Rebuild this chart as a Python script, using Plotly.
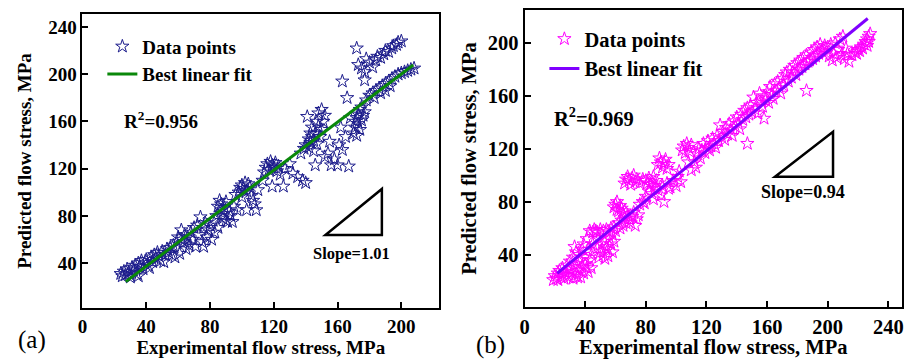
import plotly.graph_objects as go

# ---------------- Panel (a) data ----------------
left_x = [24, 25, 26, 27, 28, 29, 30, 31, 32, 33, 34, 35, 35, 36, 37, 38, 39, 40, 41, 42, 43, 44, 45, 46, 47, 48, 49, 50, 51, 52,
          53, 54, 55, 56, 57, 58, 59, 60, 61, 62, 63, 64, 65,
          62, 64, 66, 67, 68, 69, 70, 71, 72, 73, 74, 75, 76, 76, 77, 78, 79, 80, 81, 82, 83, 84, 85, 85, 86, 87, 87, 88, 88, 89,
          90, 90, 91, 92, 93, 94, 95, 96, 97,
          98, 99, 100, 100, 101, 102, 103, 103, 104, 105, 106, 107, 108, 109, 110,
          113, 114, 115, 116, 117, 118, 119, 119, 120, 121, 122, 123, 124, 126, 127, 130, 132, 135, 138, 140,
          137, 139, 140, 141, 142, 142, 143, 143, 144, 144, 145, 145, 146, 146, 147, 147, 148, 148, 149, 150, 150, 151, 152, 152,
          154, 155,
          156, 158, 160, 161, 162, 163, 165, 166, 167, 168,
          170, 171, 171, 172, 172, 173, 173, 174, 174, 175, 175, 176, 177, 172, 173, 175, 177, 178,
          180, 182, 184, 185, 187, 189, 190, 192, 194, 195, 197, 198, 200,
          178, 180, 182, 184, 186, 188, 190, 192, 194, 196, 198, 200, 202, 204, 206, 208, 183, 187, 190, 193, 177, 163]
left_y = [31, 29, 33, 30, 35, 32, 28, 36, 34, 38, 31, 29, 40, 37, 42, 35, 40, 43, 38, 36, 45, 41, 47, 44, 49, 46, 42, 50, 41, 47,
          52, 49, 53, 47, 55, 45, 58, 62, 48, 60, 57, 64, 52,
          68, 58, 62, 55, 66, 60, 70, 54, 72, 64, 79, 58, 54, 70, 74, 62, 68, 72, 60, 76, 66, 80, 70, 88, 93, 85, 90, 82, 78, 87,
          76, 92, 75, 84, 80, 75, 88, 98, 85,
          100, 104, 106, 96, 103, 108, 85, 101, 107, 104, 97, 93, 90, 85, 102,
          110, 117, 121, 124, 119, 126, 123, 105, 121, 125, 118, 122, 115, 105, 120, 124, 116, 113, 110, 108,
          133, 137, 140, 164, 145, 138, 150, 142, 147, 155, 135, 144, 123, 150, 141, 160, 156, 167, 147, 170, 153, 160, 165, 130,
          133, 143,
          123, 128, 123, 140, 155, 194, 147, 180, 122, 163,
          150, 155, 160, 148, 163, 158, 166, 153, 170, 161, 172, 165, 168, 222, 208, 205, 202, 213,
          210, 206, 212, 215, 214, 217, 220, 219, 222, 224, 225, 227, 228,
          178, 182, 184, 186, 188, 190, 192, 194, 196, 198, 200, 201, 202, 203, 204, 205, 180, 184, 186, 190, 195, 136]
left_fit_x = [27.2, 207.5]
left_fit_y = [24.3, 207.8]

# ---------------- Panel (b) data ----------------
right_x = [19, 20, 21, 22, 22, 23, 24, 25, 25, 26, 27, 28, 28, 29, 30, 30, 31, 32, 32, 33, 33, 34, 34, 35, 35, 36, 36, 37, 37,
           38, 38, 39, 39, 40, 40, 41, 41, 42, 42, 43, 43, 44, 44, 45, 45,
           46, 47, 48, 48, 49, 49, 50, 50, 51, 52, 52, 53, 53, 54, 54, 55, 55, 56, 56, 57, 57, 58, 58, 59, 59, 60,
           59, 60, 61, 61, 62, 63, 64, 65, 66, 62, 63, 64, 65, 66, 67, 68, 69, 70, 71, 72, 73, 74, 75,
           66, 67, 68, 69, 70, 71, 72, 73, 74, 76, 78, 80, 81, 82, 83, 84, 85, 86, 87, 88, 89, 90, 91, 92, 93, 94, 95,
           76, 78, 79, 80, 82, 84, 85, 86, 88, 90, 91, 92, 94, 95, 96, 98, 100, 101, 103,
           102, 104, 105, 106, 107, 108, 109, 110, 108, 110, 112, 113,
           114, 115, 116, 117, 118, 119, 120, 121, 122, 123, 124, 125, 126, 127, 128, 129, 130, 131, 132, 133, 134, 135, 136,
           137, 138, 139, 140, 141, 142, 143, 144, 145, 146, 147, 147, 148, 149, 150, 151, 152, 153, 154, 155, 156, 157, 158,
           158, 159, 160, 161, 162, 163, 164, 165, 166, 167, 168, 169, 170, 171, 172, 173, 174, 175, 176, 177, 178, 179, 180,
           181, 182, 183, 184, 185, 186, 186, 187, 188, 189, 190, 191, 192, 193, 194, 195, 196, 197, 198, 199,
           200, 201, 202, 203, 204, 205, 206, 207, 208, 209, 210, 211, 212, 213, 214,
           216, 218, 219, 220, 221, 222, 223, 224, 225, 226, 227, 227, 228, 226]
right_y = [21, 24, 22, 26, 21, 28, 23, 25, 30, 22, 27, 32, 24, 23, 29, 35, 26, 22, 38, 30, 46, 25, 42, 33, 23, 28, 40, 36, 23,
           44, 31, 26, 48, 38, 33, 30, 52, 44, 27, 36, 58, 40, 30, 57, 48,
           59, 58, 45, 57, 38, 52, 59, 42, 48, 58, 40, 50, 37, 59, 46, 44, 39, 57, 52, 48, 60, 42, 55, 61, 50, 58,
           76, 78, 74, 80, 73, 77, 75, 71, 73, 64, 60, 66, 62, 68, 64, 70, 67, 64, 69, 72, 62, 67, 70,
           94, 97, 99, 96, 93, 98, 100, 95, 97, 94, 97, 96, 94, 98, 93, 95, 99, 92, 96, 108, 113, 110, 106, 109, 112, 105, 108,
           78, 80, 79, 84, 88, 86, 82, 90, 89, 85, 92, 80, 94, 90, 91, 96, 92, 99, 95,
           103, 119, 122, 117, 124, 121, 118, 123, 110, 104, 110, 106,
           116, 120, 113, 119, 124, 117, 121, 126, 119, 122, 128, 124, 121, 130, 126, 138, 129, 133, 127, 136, 131, 139, 134,
           130, 141, 137, 144, 139, 135, 146, 142, 149, 144, 124, 151, 146, 153, 148, 159, 150, 155, 147, 162, 156, 152, 143,
           160, 157, 163, 155, 167, 161, 158, 169, 164, 171, 166, 162, 173, 168, 176, 178, 171, 180, 174, 178, 183, 176, 185,
           180, 187, 182, 189, 184, 164, 191, 186, 187, 193, 188, 195, 190, 197, 192, 199, 194, 196, 198, 193,
           197, 190, 199, 187, 192, 200, 189, 195, 203, 191, 205, 188, 196, 192, 186,
           191, 193, 192, 195, 194, 197, 196, 199, 201, 203, 205, 201, 207, 198]
right_fit_x = [21.6, 226.4]
right_fit_y = [26.0, 218.6]

# tick values
left_xticks = [0, 40, 80, 120, 160, 200]
left_yticks = [40, 80, 120, 160, 200, 240]
right_xticks = [0, 40, 80, 120, 160, 200, 240]
right_yticks = [40, 80, 120, 160, 200]

FONT = "Liberation Serif"
W, H = 904, 359

def px(x):
    return x / W

def py(y):
    return 1 - y / H

fig = go.Figure()

fig.add_trace(go.Scatter(x=left_x, y=left_y, mode="markers", name="Data points",
                         marker=dict(symbol="star-open", size=10, color="#1c1c8c", line=dict(width=1)),
                         xaxis="x", yaxis="y", legend="legend"))
fig.add_trace(go.Scatter(x=left_fit_x, y=left_fit_y, mode="lines", name="Best linear fit",
                         line=dict(color="#0a880a", width=3),
                         xaxis="x", yaxis="y", legend="legend"))
fig.add_trace(go.Scatter(x=right_x, y=right_y, mode="markers", name="Data points",
                         marker=dict(symbol="star-open", size=10, color="#ff00ff", line=dict(width=1)),
                         xaxis="x2", yaxis="y2", legend="legend2"))
fig.add_trace(go.Scatter(x=right_fit_x, y=right_fit_y, mode="lines", name="Best linear fit",
                         line=dict(color="#8000ff", width=3),
                         xaxis="x2", yaxis="y2", legend="legend2"))

def axis_common(size):
    return dict(showline=True, linecolor="black", linewidth=2, mirror=True,
                ticks="inside", ticklen=6, tickwidth=2, tickcolor="black",
                showgrid=False, zeroline=False,
                tickfont=dict(family=FONT, size=size, color="black", weight="bold"))

fs_a = 19
fs_b = 20.5

fig.update_layout(
    width=W, height=H,
    margin=dict(l=0, r=0, t=0, b=0),
    paper_bgcolor="white", plot_bgcolor="white",
    xaxis=dict(domain=[px(78), px(437)], range=[0, 223.7], tickvals=left_xticks, anchor="y",
               title=dict(text="Experimental flow stress, MPa", standoff=3,
                          font=dict(family=FONT, size=fs_a, color="black", weight="bold")),
               **axis_common(fs_a)),
    yaxis=dict(domain=[py(308), py(14)], range=[2, 251], tickvals=left_yticks, anchor="x",
               title=dict(text="Predicted flow stress, MPa", standoff=12,
                          font=dict(family=FONT, size=fs_a, color="black", weight="bold")),
               **axis_common(fs_a)),
    xaxis2=dict(domain=[px(523), px(903)], range=[0, 249], tickvals=right_xticks, anchor="y2",
                title=dict(text="Experimental flow stress, MPa", standoff=3,
                           font=dict(family=FONT, size=fs_b, color="black", weight="bold")),
                **axis_common(fs_b)),
    yaxis2=dict(domain=[py(307), py(10)], range=[0.5, 225], tickvals=right_yticks, anchor="x2",
                title=dict(text="Predicted flow stress, MPa", standoff=6,
                           font=dict(family=FONT, size=fs_b, color="black", weight="bold")),
                **axis_common(fs_b)),
    legend=dict(x=px(98), y=py(27.5), xanchor="left", yanchor="top", bgcolor="rgba(0,0,0,0)",
                font=dict(family=FONT, size=fs_a, color="black", weight="bold"), tracegroupgap=0),
    legend2=dict(x=px(543), y=py(19), xanchor="left", yanchor="top", bgcolor="rgba(0,0,0,0)",
                 font=dict(family=FONT, size=fs_b, color="black", weight="bold"), tracegroupgap=0),
    showlegend=True,
)

# slope triangles
fig.add_shape(type="path", path="M 152.4,63.8 L 187.8,63.8 L 187.8,102.8 Z", xref="x", yref="y",
              line=dict(color="black", width=2.5))
fig.add_shape(type="path", path="M 165.2,99 L 203.5,99 L 203.5,133 Z", xref="x2", yref="y2",
              line=dict(color="black", width=2.5))

ann_font_a = dict(family=FONT, size=fs_a, color="black", weight="bold")
ann_font_b = dict(family=FONT, size=fs_b, color="black", weight="bold")
fig.add_annotation(x=168.8, y=48.5, xref="x", yref="y", text="Slope=1.01", showarrow=False,
                   font=dict(family=FONT, size=16.5, color="black", weight="bold"))
fig.add_annotation(x=183.6, y=87.5, xref="x2", yref="y2", text="Slope=0.94", showarrow=False,
                   font=dict(family=FONT, size=18, color="black", weight="bold"))
fig.add_annotation(x=49, y=161, xref="x", yref="y", text="R<sup>2</sup>=0.956", showarrow=False,
                   font=ann_font_a)
fig.add_annotation(x=45.9, y=144, xref="x2", yref="y2", text="R<sup>2</sup>=0.969", showarrow=False,
                   font=ann_font_b)
fig.add_annotation(x=px(27), y=py(340), xref="paper", yref="paper", text="(a)", showarrow=False,
                   xanchor="center", yanchor="middle",
                   font=dict(family=FONT, size=25, color="black"))
fig.add_annotation(x=px(489), y=py(345), xref="paper", yref="paper", text="(b)", showarrow=False,
                   xanchor="center", yanchor="middle",
                   font=dict(family=FONT, size=25, color="black"))

fig.write_html("out.html")
